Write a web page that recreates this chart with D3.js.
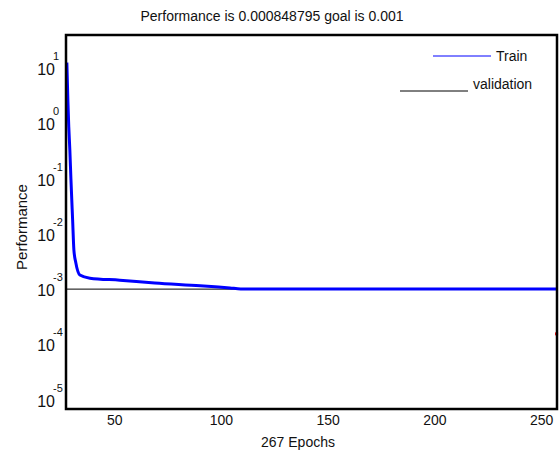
<!DOCTYPE html>
<meta charset="utf-8">
<script src="https://d3js.org/d3.v7.min.js"></script>
<style>
  body { margin: 0; background: #fff; }
  text { font-family: "Liberation Sans", Arial, sans-serif; fill: #111; }
</style>
<div id="chart"></div>
<script>
// Training curve (epoch, performance)
var trainEpochs = [27.6, 28.1, 28.5, 29.0, 29.5, 30.3, 30.9, 31.8, 33.7, 38.4, 52.4, 68.8, 90, 97, 104, 109, 257];
var trainPerf   = [12.6, 2.45, 0.87, 0.33, 0.10, 0.018, 0.0051, 0.003, 0.0018, 0.00158, 0.00145, 0.00129, 0.00115, 0.00110, 0.00105, 0.00101, 0.00101];

// goal line and the single validation mark
var goalEpochs = [27, 144];
var goalValue = 0.001;
var validationEpochs = [257];
var validationPerf = [0.000155];

var xTicks = [50, 100, 150, 200, 250];
var yExponents = [1, 0, -1, -2, -3, -4, -5];

var titleText = "Performance is 0.000848795 goal is 0.001";
var xLabel = "267 Epochs";
var yLabel = "Performance";
var legendNames = ["Train", "validation"];

var W = 560, H = 450;
// plot frame (don't use the name "top" at global scope, it's window.top)
var frame = {left: 66, right: 557, top: 35, bottom: 409};

var svg = d3.select("#chart").append("svg")
  .attr("width", W)
  .attr("height", H);

var x = d3.scaleLinear().domain([27.2, 257.2]).range([frame.left, frame.right]);
var y = d3.scaleLog().domain([Math.pow(10, -5.17), Math.pow(10, 1.6)]).range([frame.bottom, frame.top]);

// title
svg.append("text")
  .attr("x", 272).attr("y", 21)
  .attr("text-anchor", "middle")
  .style("font-size", "14px")
  .text(titleText);

// y tick labels: 10 with a raised exponent
var yt = svg.selectAll(".ytick")
  .data(yExponents)
  .enter().append("g")
  .attr("transform", function(d) { return "translate(0," + y(Math.pow(10, d)) + ")"; });
yt.append("text")
  .attr("x", 55).attr("y", 7)
  .attr("text-anchor", "end")
  .style("font-size", "16px")
  .text("10");
yt.append("text")
  .attr("x", 53).attr("y", -8)
  .style("font-size", "11px")
  .text(function(d) { return d; });

// x tick labels
svg.selectAll(".xtick")
  .data(xTicks)
  .enter().append("text")
  .attr("x", function(d) { return x(d); })
  .attr("y", 425)
  .attr("text-anchor", "middle")
  .style("font-size", "14px")
  .text(function(d) { return d; });

svg.append("text")
  .attr("x", 298).attr("y", 447)
  .attr("text-anchor", "middle")
  .style("font-size", "14px")
  .text(xLabel);

svg.append("text")
  .attr("transform", "translate(27,227)rotate(-90)")
  .attr("text-anchor", "middle")
  .style("font-size", "15px")
  .text(yLabel);

// goal line
svg.append("line")
  .attr("x1", x(goalEpochs[0])).attr("x2", x(goalEpochs[1]))
  .attr("y1", y(goalValue)).attr("y2", y(goalValue))
  .attr("stroke", "black")
  .attr("stroke-width", 1);

// train curve
var line = d3.line()
  .curve(d3.curveMonotoneX)
  .x(function(d) { return x(d[0]); })
  .y(function(d) { return y(d[1]); });
svg.append("path")
  .datum(d3.zip(trainEpochs, trainPerf))
  .attr("d", line)
  .attr("fill", "none")
  .attr("stroke", "#0000ff")
  .attr("stroke-width", 3);

// validation mark
svg.selectAll(".val")
  .data(d3.zip(validationEpochs, validationPerf))
  .enter().append("rect")
  .attr("x", function(d) { return x(d[0]) - 1.5; })
  .attr("y", function(d) { return y(d[1]) - 1.5; })
  .attr("width", 3).attr("height", 3)
  .attr("fill", "red");

// frame
svg.append("rect")
  .attr("x", frame.left).attr("y", frame.top)
  .attr("width", frame.right - frame.left).attr("height", frame.bottom - frame.top)
  .attr("fill", "none")
  .attr("stroke", "black")
  .attr("stroke-width", 2.5);

// legend
svg.append("line")
  .attr("x1", 433).attr("x2", 491).attr("y1", 56).attr("y2", 56)
  .attr("stroke", "#0000ff").attr("stroke-width", 1);
svg.append("text")
  .attr("x", 496).attr("y", 61)
  .style("font-size", "14px")
  .text(legendNames[0]);
svg.append("line")
  .attr("x1", 400).attr("x2", 468).attr("y1", 91).attr("y2", 91)
  .attr("stroke", "black").attr("stroke-width", 1);
svg.append("text")
  .attr("x", 473).attr("y", 89)
  .style("font-size", "14px")
  .text(legendNames[1]);
</script>
